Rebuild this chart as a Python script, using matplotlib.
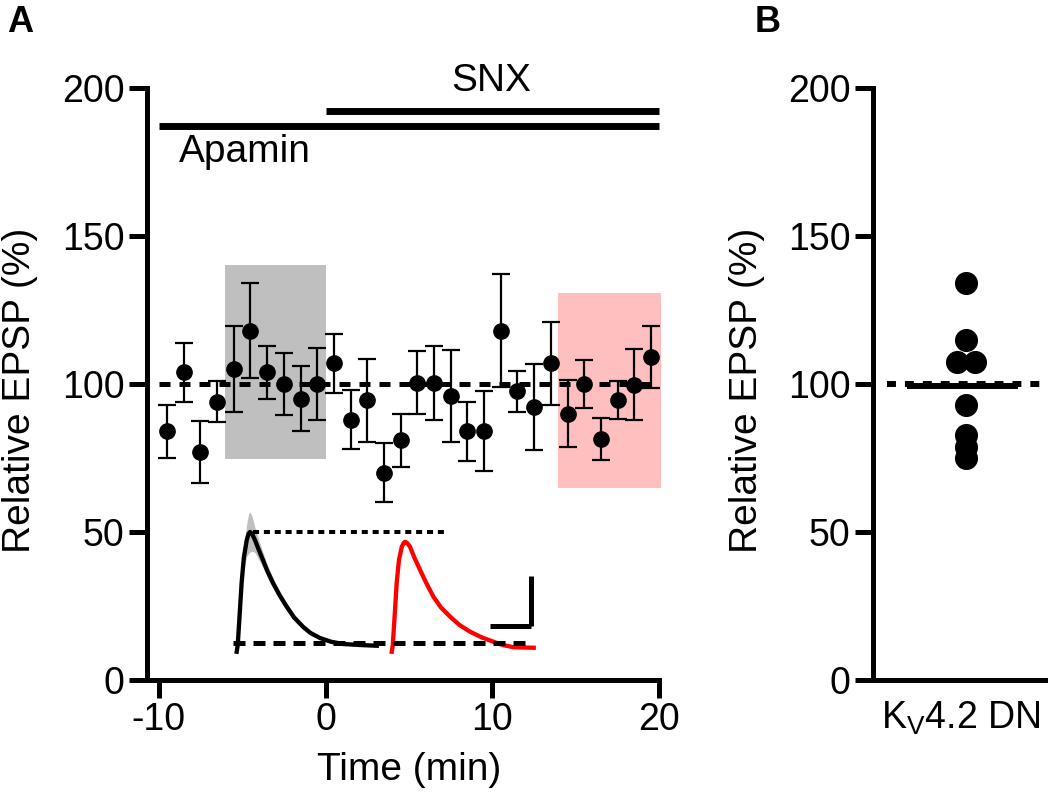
import numpy as np
import matplotlib
matplotlib.use("Agg")
import matplotlib.pyplot as plt

plt.rcParams['font.family'] = ['Liberation Sans', 'DejaVu Sans']
plt.rcParams['mathtext.fontset'] = 'custom'
plt.rcParams['mathtext.rm'] = 'Liberation Sans'
plt.rcParams['mathtext.it'] = 'Liberation Sans'
plt.rcParams['axes.unicode_minus'] = False

FS = 27

# ---- panel A: time course (min, % of baseline)
time_min = [-9.5, -8.5, -7.5, -6.5, -5.5, -4.5, -3.5, -2.5, -1.5, -0.5,
            0.5, 1.5, 2.5, 3.5, 4.5, 5.5, 6.5, 7.5, 8.5, 9.5,
            10.5, 11.5, 12.5, 13.5, 14.5, 15.5, 16.5, 17.5, 18.5, 19.5]
epsp_mean = [84, 104, 77, 94, 105, 118, 104, 100, 95, 100,
             107, 88, 94.5, 70, 81, 100.5, 100.5, 96, 84, 84,
             118, 97.5, 92.3, 107, 90, 100, 81.4, 94.6, 99.7, 109.2]
epsp_sem = [9, 10, 10.5, 7, 14.5, 16, 9, 10.5, 11, 12,
            10, 10, 14, 10, 9, 10.5, 12.5, 15.5, 10, 13.5,
            19, 7, 14.5, 14, 11.3, 8, 7, 6.5, 12, 10.5]

baseline_win = (-6.05, 0.05, 74.6, 140.2)   # t0, t1, ymin, ymax
late_win = (13.9, 20.1, 65, 130.6)

apamin_span = (-10, 20)
snx_span = (0, 20)

# ---- panel B: individual cells
kv_vals = [134, 114.9, 107.5, 107.5, 92.9, 82.8, 78.8, 74.9]
kv_xpos = [0.54, 0.54, 0.487, 0.593, 0.54, 0.54, 0.54, 0.54]

# ---- example EPSP traces (ms, mV)
tr_t = [0, 0.5, 1.2, 2.4, 3.5, 4.9, 5.8, 6.5, 7.5, 8.9, 10.8, 12.8, 15, 17.7,
        21, 24.4, 28, 32.3, 36, 40.6, 46, 51.9, 60, 68.3]
tr_ctrl = [-0.27, 0.0, 0.9, 2.48, 3.5, 4.2, 4.45, 4.52, 4.45, 4.2, 3.8, 3.4, 2.95, 2.48,
           1.98, 1.53, 1.1, 0.73, 0.48, 0.28, 0.13, 0.04, 0.0, -0.03]
tr_sem = [0, 0.02, 0.1, 0.25, 0.45, 0.65, 0.8, 0.8, 0.7, 0.5, 0.4, 0.3, 0.25, 0.2,
          0.17, 0.15, 0.12, 0.1, 0.08, 0.06, 0.05, 0.04, 0.03, 0.02]
tr_t2 = [0, 0.5, 1.2, 2.4, 3.5, 4.9, 5.8, 6.5, 7.5, 8.9, 11, 13.8, 17, 20.3,
         24, 28.5, 33, 38.2, 44, 49.6, 54, 59.4, 64, 69.2]
tr_snx = [-0.27, 0.0, 0.9, 2.48, 3.4, 3.93, 4.08, 4.13, 4.08, 3.93, 3.5, 3.0, 2.45, 1.93,
          1.5, 1.13, 0.8, 0.53, 0.3, 0.13, 0.0, -0.09, -0.1, -0.11]
red_offset = 75.6

W, H = 1050, 797
fig = plt.figure(figsize=(W / 100, H / 100), dpi=100)

def style(ax):
    for s in ['top', 'right']:
        ax.spines[s].set_visible(False)
    for s in ['left', 'bottom']:
        ax.spines[s].set_linewidth(3.6)
    ax.tick_params(width=3.6, length=13, labelsize=FS, pad=3)

axA = fig.add_axes([147 / W, 1 - 680 / H, 514 / W, 592 / H])
style(axA)
axA.set_xlim(-10.7, 20.1)
axA.set_ylim(0, 200)
axA.spines['bottom'].set_bounds(-10.7, 20.0)
axA.set_xticks([-10, 0, 10, 20])
axA.set_yticks([0, 50, 100, 150, 200])

axA.fill_between([baseline_win[0], baseline_win[1]], baseline_win[2], baseline_win[3],
                 color='#bfbfbf', lw=0, zorder=0)
axA.fill_between([late_win[0], late_win[1]], late_win[2], late_win[3],
                 color='#ffbfbf', lw=0, zorder=0)
axA.plot([-10, 20], [100, 100], color='k', lw=3.6, dashes=(2.2, 1.8), zorder=1)
axA.errorbar(time_min, epsp_mean, yerr=epsp_sem, fmt='o', color='k', ms=11,
             capsize=6.5, elinewidth=1.6, capthick=1.6, zorder=3)

axA.plot(apamin_span, [187.3, 187.3], color='k', lw=5, solid_capstyle='butt', clip_on=False)
axA.plot(snx_span, [192.2, 192.2], color='k', lw=5, solid_capstyle='butt', clip_on=False)
axA.text(-4.85, 178.4, 'Apamin', fontsize=FS + 1, ha='center', va='center')
axA.text(9.9, 202.2, 'SNX', fontsize=FS + 1, ha='center', va='center', clip_on=False)

axA.set_xlabel('Time (min)', fontsize=FS + 1)
axA.xaxis.set_label_coords(0.51, -0.122)
axA.set_ylabel('Relative EPSP (%)', fontsize=FS + 1)
axA.yaxis.set_label_coords(-0.212, 0.49)

# inset traces
axT = fig.add_axes([225 / W, 1 - 660 / H, 320 / W, 155 / H])
axT.set_xlim(-5.7, 150.3)
axT.set_ylim(-0.6, 5.6)
axT.axis('off')
t1 = np.array(tr_t)
v1 = np.array(tr_ctrl)
s1 = np.array(tr_sem)
axT.fill_between(t1, v1 - s1, v1 + s1, color='#c0c0c0', lw=0)
axT.plot(t1, v1, color='k', lw=3.1)
axT.plot(np.array(tr_t2) + red_offset, tr_snx, color='red', lw=3.1)
axT.plot([8, 102.6], [4.52, 4.52], color='k', lw=2.9, dashes=(1.5, 1.2))
axT.plot([-1.8, 144.5], [0.09, 0.09], color='k', lw=3.6, dashes=(2.4, 1.6))
axT.plot([143.6, 143.6], [0.75, 2.75], color='k', lw=3.6, solid_capstyle='butt')
axT.plot([123.6, 143.6], [0.75, 0.75], color='k', lw=3.6, solid_capstyle='butt')

# panel B
axB = fig.add_axes([873 / W, 1 - 680 / H, 172 / W, 592 / H])
style(axB)
axB.set_xlim(0, 1)
axB.set_ylim(0, 200)
axB.set_yticks([0, 50, 100, 150, 200])
axB.set_xticks([0.512])
axB.set_xticklabels(['K$_\\mathrm{V}$4.2 DN'])
axB.tick_params(axis='x', length=0, pad=14)
axB.plot([0.081, 0.971], [100, 100], color='k', lw=4.3, dashes=(1.5, 1.5), zorder=1)
axB.plot([0.2, 0.843], [np.mean(kv_vals)] * 2, color='k', lw=4.3, solid_capstyle='butt', zorder=2)
axB.plot(kv_xpos, kv_vals, 'o', color='k', ms=15.6, zorder=3, clip_on=False)
axB.set_ylabel('Relative EPSP (%)', fontsize=FS + 1)
axB.yaxis.set_label_coords(-0.63, 0.49)

fig.text(7 / W, 1 - 5 / H, 'A', fontsize=26, fontweight='bold', ha='left', va='top')
fig.text(755 / W, 1 - 5 / H, 'B', fontsize=26, fontweight='bold', ha='left', va='top')

fig.savefig('out.png', dpi=100)
